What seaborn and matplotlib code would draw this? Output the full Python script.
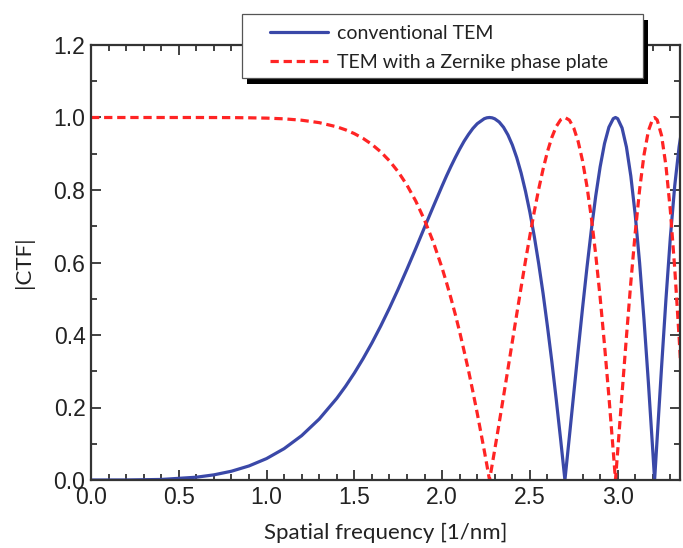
import matplotlib
matplotlib.use("Agg")
import matplotlib.pyplot as plt
import seaborn as sns
import pandas as pd
from matplotlib.patches import Rectangle
from matplotlib.ticker import MultipleLocator

# spatial frequency samples [1/nm]
freq = [0.0, 0.2, 0.4, 0.6, 0.7, 0.8, 0.9, 1.0, 1.1, 1.2, 1.3, 1.4, 1.45, 1.5,
        1.55, 1.6, 1.65, 1.7, 1.75, 1.8, 1.85, 1.9, 1.95, 2.0, 2.025, 2.05,
        2.075, 2.1, 2.125, 2.15, 2.175, 2.2, 2.24, 2.255, 2.27, 2.285, 2.3,
        2.325, 2.35, 2.375, 2.4, 2.425, 2.45, 2.475, 2.5, 2.525, 2.55, 2.575,
        2.6, 2.625, 2.65, 2.675, 2.6995, 2.725, 2.75, 2.775, 2.8, 2.825, 2.85,
        2.875, 2.9, 2.925, 2.95, 2.975, 2.9875, 3.0, 3.025, 3.05, 3.075, 3.1,
        3.125, 3.15, 3.175, 3.2, 3.2103, 3.225, 3.25, 3.275, 3.3, 3.325, 3.35,
        3.36]

# |CTF| conventional TEM
ctf_conv = [0.0, 0.0001, 0.0015, 0.0077, 0.0142, 0.0242, 0.0388, 0.0591, 0.0865,
            0.1224, 0.1682, 0.2253, 0.2585, 0.2950, 0.3349, 0.3780, 0.4245,
            0.4742, 0.5268, 0.5819, 0.6388, 0.6972, 0.7546, 0.8113, 0.8388,
            0.8648, 0.8895, 0.9128, 0.9344, 0.9531, 0.9697, 0.9829, 0.9967,
            0.9992, 1.0, 0.9991, 0.9964, 0.9876, 0.9729, 0.9519, 0.9242, 0.8893,
            0.8469, 0.7963, 0.7385, 0.6720, 0.5970, 0.5149, 0.4236, 0.3266,
            0.2222, 0.1123, 0.0, 0.1201, 0.2394, 0.3583, 0.4747, 0.5861, 0.6899,
            0.7835, 0.8636, 0.9281, 0.9732, 0.9969, 1.0, 0.9968, 0.9711, 0.9183,
            0.8381, 0.7311, 0.5984, 0.4421, 0.2683, 0.0800, 0.0, 0.1158, 0.3116,
            0.4988, 0.6688, 0.8118, 0.9196, 0.9510]

# |CTF| TEM with a Zernike phase plate
ctf_zern = [1.0, 1.0, 1.0, 1.0, 0.9999, 0.9997, 0.9992, 0.9983, 0.9963, 0.9925,
            0.9858, 0.9743, 0.9660, 0.9555, 0.9423, 0.9258, 0.9054, 0.8804,
            0.8500, 0.8133, 0.7694, 0.7169, 0.6561, 0.5846, 0.5445, 0.5021,
            0.4569, 0.4085, 0.3562, 0.3027, 0.2443, 0.1842, 0.0813, 0.0411, 0.0,
            0.0419, 0.0846, 0.1571, 0.2313, 0.3064, 0.3820, 0.4574, 0.5317,
            0.6049, 0.6743, 0.7405, 0.8022, 0.8573, 0.9058, 0.9452, 0.9750,
            0.9937, 1.0, 0.9928, 0.9709, 0.9336, 0.8801, 0.8102, 0.7239, 0.6214,
            0.5041, 0.3724, 0.2302, 0.0782, 0.0, 0.0793, 0.2388, 0.3958, 0.5455,
            0.6823, 0.8012, 0.8970, 0.9633, 0.9968, 1.0, 0.9933, 0.9502, 0.8667,
            0.7435, 0.5839, 0.3930, 0.3092]

labels = ["conventional TEM", "TEM with a Zernike phase plate"]

sns.set_style("ticks")
plt.rcParams["font.family"] = ["Liberation Sans", "DejaVu Sans"]

df = pd.DataFrame({"freq": freq, "conv": ctf_conv, "zern": ctf_zern})

fig = plt.figure(figsize=(6.83, 5.48), dpi=100)
ax = fig.add_axes([91 / 683, 1 - 480 / 548, 589 / 683, 435 / 548])

blue = "#3a48a8"
red = "#ff2424"
sns.lineplot(data=df, x="freq", y="conv", ax=ax, color=blue, lw=2.3,
             estimator=None, sort=False, label=labels[0], legend=False)
sns.lineplot(data=df, x="freq", y="zern", ax=ax, color=red, lw=2.3,
             estimator=None, sort=False, label=labels[1], legend=False)
ax.lines[1].set_dashes((2.6, 1.5))

ax.set_xlim(0, 3.355)
ax.set_ylim(0, 1.2)
ax.xaxis.set_major_locator(MultipleLocator(0.5))
ax.xaxis.set_minor_locator(MultipleLocator(0.1))
ax.yaxis.set_major_locator(MultipleLocator(0.2))
ax.yaxis.set_minor_locator(MultipleLocator(0.1))
ax.xaxis.set_major_formatter(plt.FuncFormatter(lambda v, p: f"{v:.1f}"))
ax.yaxis.set_major_formatter(plt.FuncFormatter(lambda v, p: f"{v:.1f}"))

spine_c = "#333333"
for s in ax.spines.values():
    s.set_visible(True)
    s.set_linewidth(1.6)
    s.set_color(spine_c)
ax.tick_params(which="both", direction="in", top=True, right=True,
               colors=spine_c, width=1.3)
ax.tick_params(which="major", length=7, labelsize=16.5, pad=4,
               labelcolor="#222222")
ax.tick_params(axis="x", which="major", pad=4.5)
ax.tick_params(which="minor", length=4)

lab_font = dict(family=["Lato", "DejaVu Sans"], fontsize=16, color="#222222")
ax.set_xlabel("Spatial frequency [1/nm]", labelpad=9.5, **lab_font)
ax.set_ylabel("|CTF|", labelpad=14, **lab_font)

# legend entries (frame drawn separately)
handles = ax.lines[:2]
leg = fig.legend(handles, labels, loc="upper left",
                 bbox_to_anchor=(266 / 683, 1 - 21 / 548),
                 bbox_transform=fig.transFigure, borderaxespad=0,
                 frameon=False, prop={"family": ["Lato", "DejaVu Sans"],
                                      "size": 14},
                 handlelength=3.0, handletextpad=0.45, borderpad=0.2,
                 labelspacing=0.6)
leg.set_zorder(6)
for t in leg.get_texts():
    t.set_color("#222222")

# legend box with solid black drop shadow (pixel coordinates)
H = 548
box_x0, box_x1, box_top, box_bot = 242, 643, 14, 78
shadow = Rectangle((box_x0 + 5, H - box_bot - 6), box_x1 - box_x0,
                   box_bot - box_top, transform=None, facecolor="black",
                   edgecolor="none", zorder=4)
frame = Rectangle((box_x0, H - box_bot), box_x1 - box_x0, box_bot - box_top,
                  transform=None, facecolor="white", edgecolor="#555555",
                  linewidth=0.9, zorder=5)
fig.patches.extend([shadow, frame])

fig.savefig("out.png", dpi=100, facecolor="white")
